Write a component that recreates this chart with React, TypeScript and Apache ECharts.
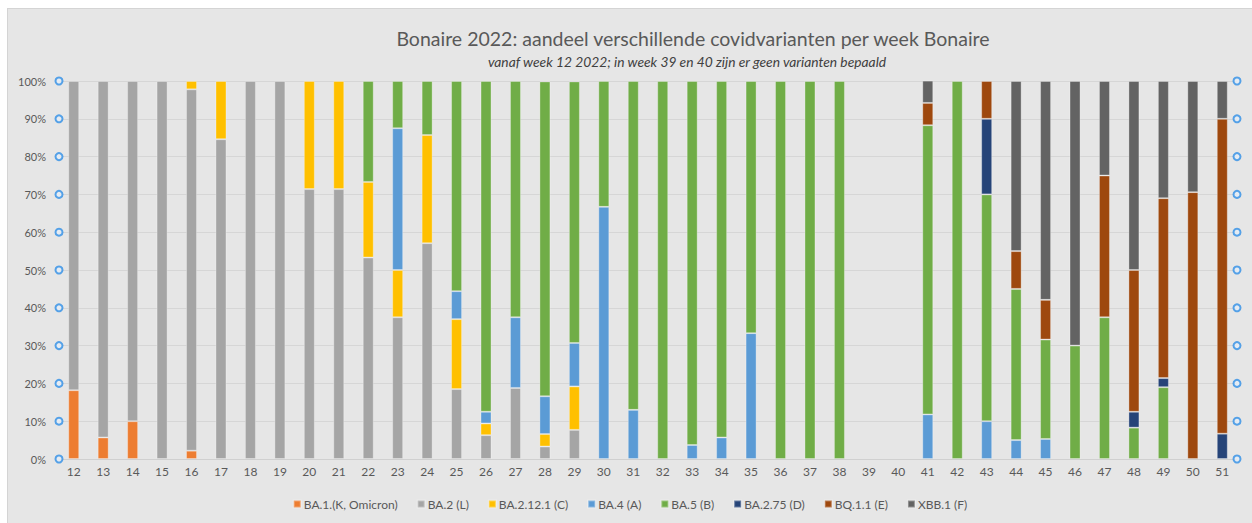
import React, { useEffect, useRef } from "react";
import * as echarts from "echarts";

const weeks = ["12","13","14","15","16","17","18","19","20","21","22","23","24","25","26","27","28","29","30","31","32","33","34","35","36","37","38","39","40","41","42","43","44","45","46","47","48","49","50","51"];

const ba1 = [18.2,5.7,10,0,2.2,0,0,0,0,0,0,0,0,0,0,0,0,0,0,0,0,0,0,0,0,0,0,0,0,0,0,0,0,0,0,0,0,0,0,0];
const ba2 = [81.8,94.3,90,100,95.6,84.6,100,100,71.4,71.4,53.3,37.5,57.1,18.5,6.3,18.8,3.3,7.7,0,0,0,0,0,0,0,0,0,0,0,0,0,0,0,0,0,0,0,0,0,0];
const ba2121 = [0,0,0,0,2.2,15.4,0,0,28.6,28.6,20,12.5,28.6,18.5,3.1,0,3.3,11.5,0,0,0,0,0,0,0,0,0,0,0,0,0,0,0,0,0,0,0,0,0,0];
const ba4 = [0,0,0,0,0,0,0,0,0,0,0,37.5,0,7.4,3.1,18.7,10,11.5,66.7,13,0,3.7,5.7,33.3,0,0,0,0,0,11.8,0,10,5,5.3,0,0,0,0,0,0];
const ba5 = [0,0,0,0,0,0,0,0,0,0,26.7,12.5,14.3,55.6,87.5,62.5,83.3,69.2,33.3,87,100,96.3,94.3,66.7,100,100,100,0,0,76.5,100,60,40,26.3,30,37.5,8.3,19,0,0];
const ba275 = [0,0,0,0,0,0,0,0,0,0,0,0,0,0,0,0,0,0,0,0,0,0,0,0,0,0,0,0,0,0,0,20,0,0,0,0,4.2,2.4,0,6.7];
const bq11 = [0,0,0,0,0,0,0,0,0,0,0,0,0,0,0,0,0,0,0,0,0,0,0,0,0,0,0,0,0,5.9,0,10,10,10.5,0,37.5,37.5,47.6,70.6,83.3];
const xbb = [0,0,0,0,0,0,0,0,0,0,0,0,0,0,0,0,0,0,0,0,0,0,0,0,0,0,0,0,0,5.9,0,0,45,57.9,70,25,50,31,29.4,10];

const seriesNames = ["BA.1.(K, Omicron)","BA.2 (L)","BA.2.12.1 (C)","BA.4 (A)","BA.5 (B)","BA.2.75 (D)","BQ.1.1 (E)","XBB.1 (F)"];
const seriesData = [ba1, ba2, ba2121, ba4, ba5, ba275, bq11, xbb];
const seriesColors = ["#ed7d31","#a5a5a5","#ffc000","#5b9bd5","#70ad47","#264478","#9e480e","#636363"];

const yTicks = [0,10,20,30,40,50,60,70,80,90,100];
const edgePositions = [0, 1];

const title = "Bonaire 2022: aandeel verschillende covidvarianten per week Bonaire";
const subtitle = "vanaf week 12 2022; in week 39 en 40 zijn er geen varianten bepaald";

const FONT = "Lato, 'Noto Sans', sans-serif";

export default function App() {
  const ref = useRef<HTMLDivElement>(null);
  useEffect(() => {
    if (!ref.current) return;
    const chart = echarts.init(ref.current, null, { renderer: "svg" });
    const bars = seriesNames.map((name, i) => ({
      name,
      type: "bar",
      stack: "total",
      barWidth: 11,
      xAxisIndex: 0,
      yAxisIndex: 0,
      itemStyle: { color: seriesColors[i], borderColor: "rgba(255,255,255,0.3)", borderWidth: 1 },
      data: seriesData[i].map((v) => (v === 0 ? null : v)),
    }));
    const circles: number[][] = [];
    edgePositions.forEach((x) => yTicks.forEach((y) => circles.push([x, y])));
    chart.setOption({
      animation: false,
      backgroundColor: "transparent",
      textStyle: { fontFamily: FONT },
      title: [
        { text: title, left: 680, top: 14, textAlign: "center",
          textStyle: { fontFamily: FONT, fontSize: 19.5, fontWeight: "normal", color: "#595959" } },
        { text: subtitle, left: 674, top: 40, textAlign: "center",
          textStyle: { fontFamily: FONT, fontSize: 13.8, fontStyle: "italic", fontWeight: "normal", color: "#404040" } },
      ],
      legend: {
        bottom: 8, left: "center", itemWidth: 7, itemHeight: 7, itemGap: 19,
        icon: "rect",
        data: seriesNames,
        textStyle: { fontFamily: FONT, fontSize: 12, color: "#595959", padding: [0, 0, 0, -2] },
      },
      grid: { left: 51, right: 15, top: 72, bottom: 64, containLabel: false },
      xAxis: [
        {
          type: "category", data: weeks,
          axisLine: { lineStyle: { color: "#d0d0d0" } },
          axisTick: { show: false },
          axisLabel: { color: "#595959", fontSize: 12, fontFamily: FONT, margin: 6, interval: 0 },
        },
        { type: "value", min: 0, max: 1, show: false },
      ],
      yAxis: [
        {
          type: "value", min: 0, max: 100, interval: 10,
          axisLine: { show: false }, axisTick: { show: false },
          splitLine: { lineStyle: { color: "#d6d6d6" } },
          axisLabel: { formatter: "{value}%", color: "#595959", fontSize: 11, fontFamily: FONT, margin: 13 },
        },
      ],
      series: [
        ...bars,
        {
          type: "scatter", xAxisIndex: 1, yAxisIndex: 0, silent: true, clip: false,
          symbol: "circle", symbolSize: 7, z: 5,
          itemStyle: { color: "#e6eef6", borderColor: "#2f8fe6", borderWidth: 2 },
          data: circles,
        },
      ],
    });
    return () => chart.dispose();
  }, []);
  return (
    <div style={{ position: "absolute", left: 7, top: 8, background: "#e6e6e6", borderLeft: "1px solid #d4d4d4", borderTop: "1px solid #d4d4d4" }}>
      <div ref={ref} style={{ width: 1244, height: 514 }} />
    </div>
  );
}
